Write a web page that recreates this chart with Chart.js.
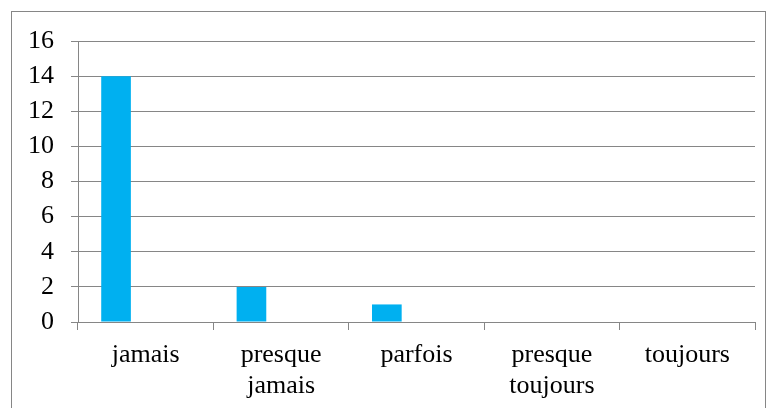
<!DOCTYPE html>
<html>
<head>
<meta charset="utf-8">
<script src="https://cdn.jsdelivr.net/npm/chart.js@4.4.1/dist/chart.umd.min.js"></script>
<style>
  html, body { margin: 0; padding: 0; background: #fff; overflow: hidden; }
  #wrap { position: relative; width: 772px; height: 408px; }
  #frame { position: absolute; left: 11px; top: 11px; width: 755px; height: 420px; border: 1px solid #868686; box-sizing: border-box; }
  canvas { position: absolute; left: 0; top: 0; }
</style>
</head>
<body>
<div id="wrap">
  <div id="frame"></div>
  <canvas id="chart" width="772" height="408"></canvas>
</div>
<script>
const categories = ['jamais', ['presque', 'jamais'], 'parfois', ['presque', 'toujours'], 'toujours'];
const series1 = [14, 2, 1, 0, 0];
const series2 = [null, null, null, null, null];
const series3 = [null, null, null, null, null];
const yTicks = [0, 2, 4, 6, 8, 10, 12, 14, 16];

const gridColor = '#868686';
const font = { family: '"Liberation Serif", "Times New Roman", serif', size: 26 };

new Chart(document.getElementById('chart').getContext('2d'), {
  type: 'bar',
  data: {
    labels: categories,
    datasets: [
      { data: series1, backgroundColor: '#00B0F0' },
      { data: series2, backgroundColor: '#C0504D' },
      { data: series3, backgroundColor: '#9BBB59' }
    ]
  },
  options: {
    responsive: false,
    animation: false,
    devicePixelRatio: 1,
    categoryPercentage: 0.657,
    barPercentage: 1,
    layout: { padding: { top: 41, right: 17, left: 0, bottom: 0 } },
    plugins: { legend: { display: false }, tooltip: { enabled: false } },
    scales: {
      x: {
        afterFit: (s) => { s.height = 86; },
        grid: { offset: true, drawOnChartArea: false, drawTicks: true, tickLength: 8, color: gridColor, lineWidth: 1 },
        border: { color: gridColor },
        ticks: { color: '#000', font: { ...font, lineHeight: 1.18 }, padding: 10, maxRotation: 0 }
      },
      y: {
        min: 0,
        max: 16,
        afterFit: (s) => { s.width = 78; },
        afterBuildTicks: (s) => { s.ticks = yTicks.map(v => ({ value: v })); },
        grid: { color: gridColor, tickLength: 7, lineWidth: 1 },
        border: { color: gridColor },
        ticks: { color: '#000', font: font, padding: 17 }
      }
    }
  }
});
</script>
</body>
</html>
